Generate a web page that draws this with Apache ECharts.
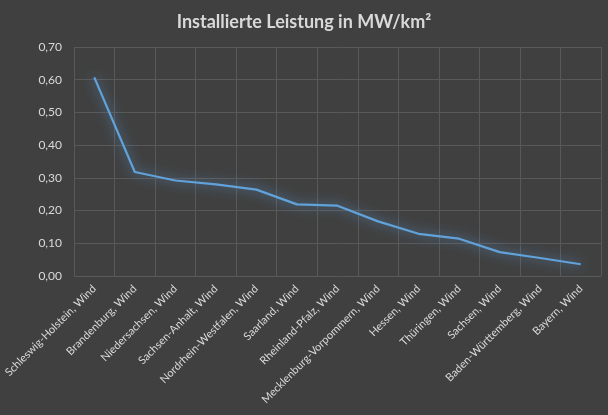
<!DOCTYPE html>
<html>
<head>
<meta charset="utf-8">
<script src="https://cdn.jsdelivr.net/npm/echarts@6/dist/echarts.min.js"></script>
<style>
  html, body { margin: 0; padding: 0; background: #404040; }
  #chart { width: 608px; height: 415px; }
</style>
</head>
<body>
<div id="chart"></div>
<script>
const categories = [
  'Schleswig-Holstein, Wind', 'Brandenburg, Wind', 'Niedersachsen, Wind',
  'Sachsen-Anhalt, Wind', 'Nordrhein-Westfalen, Wind', 'Saarland, Wind',
  'Rheinland-Pfalz, Wind', 'Mecklenburg-Vorpommern, Wind', 'Hessen, Wind',
  'Thüringen, Wind', 'Sachsen, Wind', 'Baden-Württemberg, Wind', 'Bayern, Wind'
];
const leistung = [0.607, 0.318, 0.292, 0.280, 0.264, 0.219, 0.215, 0.167, 0.129, 0.114, 0.073, 0.055, 0.036];

const chart = echarts.init(document.getElementById('chart'));

chart.setOption({
  backgroundColor: '#404040',
  title: {
    text: 'Installierte Leistung in MW/km²',
    left: 'center',
    top: 8,
    textStyle: { color: '#d9d9d9', fontFamily: 'Lato', fontWeight: 'bold', fontSize: 18 }
  },
  grid: { left: 74, right: 7, top: 47, bottom: 139 },
  xAxis: {
    type: 'category',
    data: categories,
    boundaryGap: true,
    axisLine: { show: false },
    axisTick: { show: false },
    axisLabel: {
      rotate: 45,
      interval: 0,
      margin: 11,
      color: '#d9d9d9',
      fontFamily: 'Lato',
      fontSize: 11
    },
    splitLine: { show: true, lineStyle: { color: '#595959', width: 1 } }
  },
  yAxis: {
    type: 'value',
    min: 0,
    max: 0.7,
    interval: 0.1,
    axisLine: { show: false },
    axisTick: { show: false },
    axisLabel: {
      color: '#d9d9d9',
      fontFamily: 'Lato',
      fontSize: 12,
      margin: 12,
      formatter: v => v.toFixed(2).replace('.', ',')
    },
    splitLine: { lineStyle: { color: '#595959', width: 1 } }
  },
  series: [{
    type: 'line',
    data: leistung,
    symbol: 'none',
    lineStyle: {
      color: '#62a2da',
      width: 2.2,
      shadowColor: 'rgba(91,155,213,1)',
      shadowBlur: 12
    }
  }]
});
</script>
</body>
</html>
